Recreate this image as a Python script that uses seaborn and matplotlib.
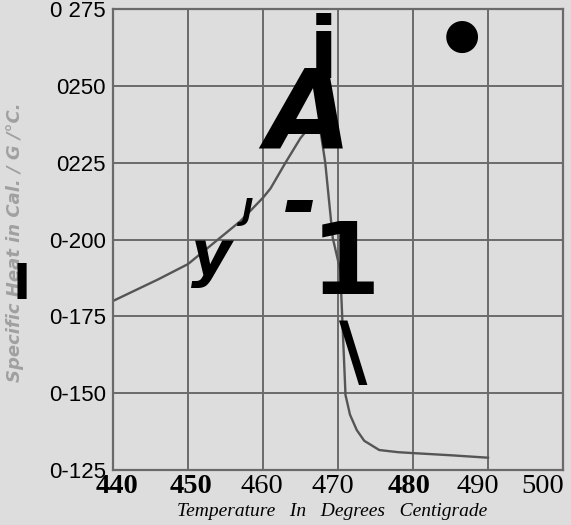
import matplotlib
matplotlib.use("Agg")
import matplotlib.pyplot as plt
import matplotlib.transforms as mtransforms
import seaborn as sns
import pandas as pd

# values
temperature = [440, 443, 446, 450, 454, 457, 460, 461, 463, 465, 466.5, 467.5, 468.3, 469.3,
               470.3, 471.0, 471.6, 472.5, 473.5, 475.5, 478, 480, 485, 490]
specific_heat = [0.180, 0.1835, 0.187, 0.192, 0.200, 0.206, 0.2136, 0.2166, 0.225, 0.233, 0.2375, 0.238,
                 0.225, 0.2005, 0.190, 0.1494, 0.143, 0.138, 0.1345, 0.1315, 0.1308, 0.1305, 0.1298, 0.129]

x_ticks = [440, 450, 460, 470, 480, 490, 500]
x_tick_bold = [True, True, False, False, True, False, False]
y_ticks = [0.125, 0.150, 0.175, 0.200, 0.225, 0.250, 0.275]
y_tick_labels = ["0-125", "0-150", "0-175", "0-200", "0225", "0250", "0 275"]

# stray OCR glyphs sitting on the scan: (char, x px, y px, size, style)
stray_glyphs = [
    ("i", 323, 54, 62, "normal"),
    ("A", 308, 118, 80, "oblique"),
    ("-", 300, 206, 60, "oblique"),
    ("1", 346, 266, 72, "normal"),
    ("\\", 353, 356, 56, "normal"),
    ("y", 211, 258, 45, "oblique"),
    ("J", 247, 211, 22, "oblique"),
    ("I", 22, 285, 35, "normal"),
    ("●", 462, 36, 30, "normal"),
]

paper = "#dddddd"
ink = "#555555"

df = pd.DataFrame({"temp": temperature, "heat": specific_heat})

W, H = 571, 525
fig = plt.figure(figsize=(W / 100, H / 100), dpi=100, facecolor=paper)
ax = fig.add_axes([113 / W, 1 - 470 / H, 450 / W, 461 / H], facecolor=paper)

sns.lineplot(data=df, x="temp", y="heat", ax=ax, color=ink, linewidth=1.7, sort=False)

ax.set_xlim(440, 500)
ax.set_ylim(0.125, 0.275)
ax.set_xticks(x_ticks)
ax.set_yticks(y_ticks)
ax.grid(True, color="#6a6a6a", linewidth=1.4)
ax.set_axisbelow(True)
for sp in ax.spines.values():
    sp.set_color("#6a6a6a")
    sp.set_linewidth(1.6)
ax.tick_params(length=0, pad=5)

ax.set_yticklabels(y_tick_labels, fontsize=16, family="Liberation Sans")

# x labels drawn by hand: the printed numbers sit a little off their grid lines
ax.set_xticklabels([])
x_shift = [4, 3, -1, -5, -4, -10, -20]
for t, b, dx in zip(x_ticks, x_tick_bold, x_shift):
    tr = ax.get_xaxis_transform() + mtransforms.ScaledTranslation(dx / 100, -4 / 100, fig.dpi_scale_trans)
    ax.text(t, 0, str(t), transform=tr, ha="center", va="top", fontsize=20.5,
            family="Liberation Serif", fontweight="bold" if b else "normal", clip_on=False)
ax.set_xlabel("")
ax.set_ylabel("")

fig.text(332 / W, 1 - 512 / H, "Temperature   In   Degrees   Centigrade", ha="center", va="center",
         fontsize=14, style="italic", family="Liberation Serif")

fig.text(15 / W, 1 - 242 / H, "Specific Heat in Cal. / G /°C.", rotation=90,
         ha="center", va="center", fontsize=13, color="#a0a0a0",
         style="italic", fontweight="bold")

for ch, px, py, size, st in stray_glyphs:
    fig.text(px / W, 1 - py / H, ch, ha="center", va="center", fontsize=size,
             fontweight="bold", style=st, color="black", family="DejaVu Sans")

fig.savefig("out.png", dpi=100, facecolor=paper)
